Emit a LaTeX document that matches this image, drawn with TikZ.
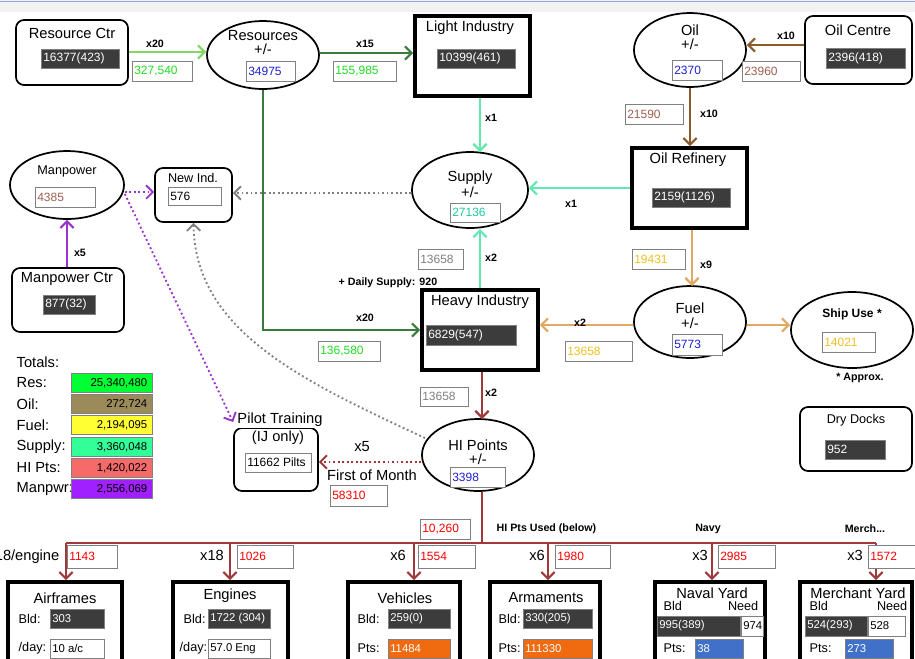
\documentclass[tikz,border=0pt]{standalone}
\usepackage{fontspec}
\setmainfont{Liberation Sans}
\usetikzlibrary{shapes.geometric,arrows.meta}
\definecolor{lg}{HTML}{80D860}\definecolor{dg}{HTML}{3A7A3A}\definecolor{aq}{HTML}{60E8B0}
\definecolor{br}{HTML}{8B5A2B}\definecolor{og}{HTML}{E0A860}\definecolor{rd}{HTML}{A03A3A}
\definecolor{pu}{HTML}{9933CC}\definecolor{dk}{HTML}{3C3C3C}\definecolor{gn}{HTML}{22DD22}
\definecolor{bl}{HTML}{2020CC}\definecolor{tl}{HTML}{20C8A0}\definecolor{bn}{HTML}{A06050}
\definecolor{yl}{HTML}{F0C020}\definecolor{ora}{HTML}{F06A10}\definecolor{blu}{HTML}{4070C8}
\newcommand\bx[6]{\node[#6, minimum width={(#4-#2)*0.75pt}, minimum height={(#5-#3)*0.75pt}, inner sep=0pt] (#1) at ({(#2+#4)/2},{(#3+#5)/2}) {};}
\newcommand\el[5]{\node[ellipse, draw, line width=1.3pt, minimum width={2*#4*0.75pt}, minimum height={2*#5*0.75pt}, inner sep=0pt] (#1) at (#2,#3) {};}
\newcommand\vb[7]{\node[draw=gray, fill=#5, minimum width={(#3-#1)*0.75pt}, minimum height={(#4-#2)*0.75pt}, inner sep=0pt] at ({(#1+#3)/2},{(#2+#4)/2}) {};
 \node[text=#6, anchor=west, inner sep=1.5pt, font=\vbfont] at (#1,{(#2+#4)/2}) {#7};}
\newcommand\vbfont{\fontsize{9}{10}\selectfont}
\begin{document}
\begin{tikzpicture}[x=0.75pt,y=-0.75pt,
 rbox/.style={draw, line width=1.3pt, rounded corners=6pt},
 tbox/.style={draw, line width=2.8pt},
 ttl/.style={font=\fontsize{11}{12}\selectfont},
 ml/.style={font=\bfseries\fontsize{8}{9}\selectfont},
 arr/.style={line width=1.6pt, -{Straight Barb[length=5pt,width=10pt]}},
 dot/.style={line width=1.4pt, dotted, -{Straight Barb[length=5pt,width=10pt]}}]
\useasboundingbox (0,0) rectangle (915,658);
\fill[gray!10] (0,0) rectangle (915,12);
\draw[blu!60] (0,1) -- (915,1);
% top row
\bx{rc}{16}{20}{128}{85}{rbox}
\node[ttl] at (72,33) {Resource Ctr};
\vb{41}{49}{119}{68}{dk}{white}{16377(423)}
\el{res}{263}{55}{56}{34}
\node[ttl] at (263,36) {Resources}; \node[ttl] at (263,49) {+/-};
\vb{246}{61}{295}{81}{white}{bl}{34975}
\bx{li}{415}{16}{530}{96}{tbox}
\node[ttl] at (470,28) {Light Industry};
\vb{437}{49}{515}{68}{dk}{white}{10399(461)}
\el{oil}{690}{50}{56}{37}
\node[ttl] at (690,30) {Oil}; \node[ttl] at (690,44) {+/-};
\vb{672}{60}{722}{80}{white}{bl}{2370}
\bx{oc}{805}{16}{912}{84}{rbox}
\node[ttl] at (858,30) {Oil Centre};
\vb{826}{48}{905}{68}{dk}{white}{2396(418)}
\draw[arr,lg] (rc.east|-0,52) -- (res.west|-0,52);
\node[ml] at (155,44) {x20};
\vb{132}{61}{192}{81}{white}{gn}{327,540}
\draw[arr,dg] (res.east|-0,53) -- (li.west|-0,53);
\node[ml] at (365,44) {x15};
\vb{333}{61}{396}{81}{white}{gn}{155,985}
\draw[arr,br] (oc.west|-0,45) -- (oil.east|-0,45);
\node[ml] at (786,36) {x10};
\vb{742}{61}{800}{81}{white}{bn}{23960}
% refinery and supply
\bx{ref}{632}{148}{747}{228}{tbox}
\node[ttl] at (688,160) {Oil Refinery};
\vb{652}{188}{730}{207}{dk}{white}{2159(1126)}
\draw[arr,br] (oil.south) -- (oil.south|-ref.north);
\vb{625}{104}{683}{124}{white}{bn}{21590}
\node[ml] at (709,114) {x10};
\el{sup}{470}{190}{58}{38}
\node[ttl] at (470,178) {Supply}; \node[ttl] at (470,192) {+/-};
\vb{450}{203}{500}{222}{white}{tl}{27136}
\draw[arr,aq] (li.south-|480,0) -- (480,152);
\node[ml] at (491,118) {x1};
\draw[arr,aq] (ref.west|-0,188) -- (sup.east|-0,188);
\node[ml] at (571,204) {x1};
% new ind / manpower
\bx{ni}{155}{168}{232}{222}{rbox}
\node[ttl,font=\fontsize{9.5}{10}\selectfont] at (193,178) {New Ind.};
\vb{168}{187}{221}{205}{white}{black}{576}
\draw[dot,gray] (sup.west|-0,193) -- (ni.east|-0,193);
\el{mp}{67}{185}{57}{34}
\node[font=\fontsize{9.5}{10}\selectfont] at (67,171) {Manpower};
\vb{35}{187}{95}{207}{white}{bn}{4385}
\bx{mc}{12}{268}{124}{332}{rbox}
\node[ttl] at (67,279) {Manpower Ctr};
\vb{43}{295}{95}{314}{dk}{white}{877(32)}
\draw[arr,pu] (mc.north-|67,0) -- (mp.south);
\node[ml] at (80,253) {x5};
\draw[dot,pu] (mp.east|-0,192) -- (ni.west|-0,192);
% heavy industry
\bx{hi}{422}{290}{538}{370}{tbox}
\node[ttl] at (480,302) {Heavy Industry};
\vb{426}{325}{516}{345}{dk}{white}{6829(547)}
\draw[arr,aq] (hi.north-|480,0) -- (480,229);
\vb{418}{249}{463}{269}{white}{gray}{13658}
\node[ml] at (491,258) {x2};
\node[ml,anchor=west] at (334,283) {+ Daily Supply: 920};
\draw[arr,dg] (res.south) -- (263,330) -- (hi.west|-0,330);
\node[ml] at (365,318) {x20};
\vb{318}{341}{380}{361}{white}{gn}{136,580}
% fuel
\el{fu}{690}{322}{56}{36}
\node[ttl] at (690,308) {Fuel}; \node[ttl] at (690,323) {+/-};
\vb{672}{334}{722}{355}{white}{bl}{5773}
\draw[arr,og] (ref.south-|692,0) -- (692,286);
\vb{632}{249}{685}{269}{white}{yl}{19431}
\node[ml] at (706,265) {x9};
\draw[arr,og] (fu.west|-0,325) -- (hi.east|-0,325);
\node[ml] at (580,323) {x2};
\vb{565}{341}{632}{361}{white}{yl}{13658}
\el{su}{852}{330}{61}{38}
\node[ml,font=\bfseries\fontsize{9}{10}\selectfont] at (852,314) {Ship Use *};
\vb{822}{332}{875}{352}{white}{yl}{14021}
\draw[arr,og] (fu.east|-0,325) -- (su.west|-0,325);
\node[ml] at (860,378) {* Approx.};
\bx{dd}{800}{407}{912}{471}{rbox}
\node[font=\fontsize{9.5}{10}\selectfont] at (856,420) {Dry Docks};
\vb{825}{440}{885}{459}{dk}{white}{952}
% totals
\node[ttl,anchor=west] at (12,362) {Totals:};
\foreach \y/\l/\c/\v in {383/Res:/00FF33/25{,}340{,}480,404/Oil:/9C8B5A/272{,}724,425/Fuel:/FFFF33/2{,}194{,}095,447/Supply:/33FF99/3{,}360{,}048,468/HI Pts:/F66A6A/1{,}420{,}022,489/Manpwr:/A020FF/2{,}556{,}069}{
 \node[ttl,anchor=west] at (12,\y) {\l};
 \definecolor{tc}{HTML}{\c}
 \node[draw=gray,fill=tc,minimum width={81*0.75pt},minimum height={19*0.75pt},inner sep=0pt] at (112,\y) {};
 \node[anchor=east,font=\fontsize{8.5}{9}\selectfont] at (152,\y) {\v};}
% HI points
\el{hp}{478}{455}{56}{36}
\node[ttl] at (478,445) {HI Points}; \node[ttl] at (478,459) {+/-};
\vb{450}{467}{505}{487}{white}{bl}{3398}
\draw[arr,rd] (hi.south-|482,0) -- (482,419);
\vb{420}{387}{468}{406}{white}{gray}{13658}
\node[ml] at (491,393) {x2};
\bx{pt}{234}{428}{318}{491}{rbox}
\node[ttl,fill=white,inner sep=1pt] at (280,420) {Pilot Training};
\node[ttl] at (278,438) {(IJ only)};
\vb{245}{453}{311}{472}{white}{black}{11662 Pilts}
\draw[dot,rd] (hp.west|-0,462) -- (pt.east|-0,462);
\node[ttl] at (362,447) {x5};
\node[ttl] at (372,475) {First of Month};
\vb{330}{485}{387}{506}{white}{red}{58310}
\draw[dot,pu] (mp.east|-0,194) -- (pt.west|-0,422);
\draw[dot,gray] (425,438) .. controls (300,380) and (195,330) .. (ni.south);
% HI used
\coordinate (hb) at (482,543);
\draw[line width=1.6pt,rd] (hp.south-|482,0) -- (hb);
\draw[line width=1.6pt,rd] (66,543) -- (876,543);
\vb{420}{519}{470}{539}{white}{red}{10,260}
\node[ml,anchor=west] at (492,529) {HI Pts Used (below)};
\node[ml] at (708,529) {Navy};
\node[ml] at (865,529) {Merch...};
\tikzset{nar/.style={font=\fontsize{9.5}{10}\selectfont}}
\bx{af}{8}{582}{122}{668}{tbox}
\bx{en}{173}{582}{288}{668}{tbox}
\bx{ve}{348}{582}{460}{668}{tbox}
\bx{ar}{490}{582}{600}{668}{tbox}
\bx{ny}{655}{582}{765}{668}{tbox}
\bx{my}{800}{582}{912}{668}{tbox}
\foreach \n/\x in {af/66,en/230,ve/414,ar/548,ny/712,my/876}{\draw[arr,rd] (\x,543) -- (\n.north-|\x,0);}
\node[ttl,anchor=east] at (64,557) {x18/engine};
\vb{67}{545}{117}{568}{white}{red}{1143}
\node[ttl] at (212,555) {x18}; \vb{237}{545}{293}{568}{white}{red}{1026}
\node[ttl] at (398,555) {x6}; \vb{418}{545}{475}{568}{white}{red}{1554}
\node[ttl] at (537,555) {x6}; \vb{555}{545}{610}{568}{white}{red}{1980}
\node[ttl] at (700,555) {x3}; \vb{718}{545}{775}{568}{white}{red}{2985}
\node[ttl] at (855,555) {x3}; \vb{868}{545}{915}{568}{white}{red}{1572}
% bottom boxes
\renewcommand\vbfont{\fontsize{8.5}{9}\selectfont}
\node[ttl] at (65,598) {Airframes};
\node[nar,anchor=west] at (14,619) {Bld:}; \vb{50}{609}{104}{628}{dk}{white}{303}
\node[nar,anchor=west] at (14,648) {/day:}; \vb{50}{639}{104}{658}{white}{black}{10 a/c}
\node[ttl] at (230,596) {Engines};
\node[nar,anchor=west] at (179,619) {Bld:}; \vb{208}{609}{270}{628}{dk}{white}{1722 (304)}
\node[nar,anchor=west] at (175,648) {/day:}; \vb{208}{639}{270}{658}{white}{black}{57.0 Eng}
\node[ttl] at (405,598) {Vehicles};
\node[nar,anchor=west] at (353,619) {Bld:}; \vb{388}{609}{450}{628}{dk}{white}{259(0)}
\node[nar,anchor=west] at (353,648) {Pts:}; \vb{388}{639}{450}{658}{ora}{white}{11484}
\node[ttl] at (546,598) {Armaments};
\node[nar,anchor=west] at (494,619) {Bld:}; \vb{523}{609}{592}{628}{dk}{white}{330(205)}
\node[nar,anchor=west] at (494,648) {Pts:}; \vb{523}{639}{592}{658}{ora}{white}{111330}
\node[ttl] at (712,593) {Naval Yard};
\node[nar,anchor=west] at (659,606) {Bld}; \node[nar,anchor=east] at (763,606) {Need};
\vb{657}{616}{740}{636}{dk}{white}{995(389)} \vb{741}{616}{763}{636}{white}{black}{974}
\node[nar,anchor=west] at (659,648) {Pts:}; \vb{695}{639}{743}{658}{blu}{white}{38}
\node[ttl] at (858,593) {Merchant Yard};
\node[nar,anchor=west] at (805,606) {Bld}; \node[nar,anchor=east] at (912,606) {Need};
\vb{805}{616}{867}{636}{dk}{white}{524(293)} \vb{868}{616}{905}{636}{white}{black}{528}
\node[nar,anchor=west] at (805,648) {Pts:}; \vb{845}{639}{893}{658}{blu}{white}{273}
\end{tikzpicture}
\end{document}
